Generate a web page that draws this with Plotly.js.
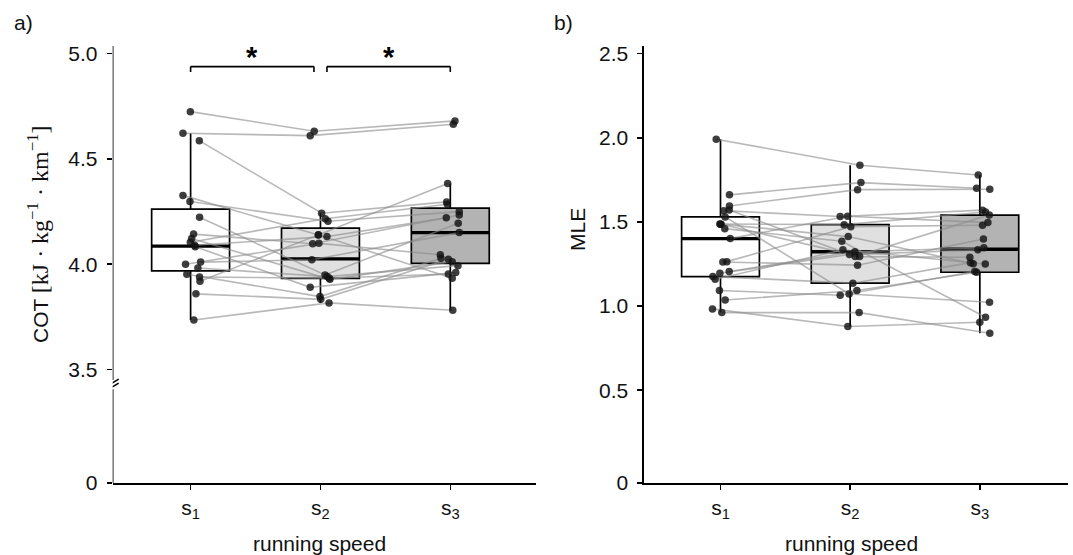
<!DOCTYPE html>
<html>
<head>
<meta charset="utf-8">
<script src="https://cdn.plot.ly/plotly-3.0.1.min.js"></script>
<style>html,body{margin:0;padding:0;background:#fff;}#chart{width:1073px;height:555px;}</style>
</head>
<body>
<div id="chart"></div>
<script>
// ---------- data ----------
const categories = ['s<sub>1</sub>', 's<sub>2</sub>', 's<sub>3</sub>'];
const catPos = [0, 1, 2];

// a) COT, one entry per participant (same order in each speed)
const cotS1 = [4.725, 4.622, 4.587, 4.327, 4.298, 4.223, 4.143, 4.122, 4.104, 4.083, 4.090, 4.010, 4.000, 3.982, 3.952, 3.939, 3.919, 3.859, 3.735];
const cotS2 = [4.632, 4.611, 4.242, 4.139, 4.204, 3.949, 4.097, 3.928, 4.216, 3.890, 4.131, 4.021, 4.099, 3.941, 3.846, 3.933, 4.140, 3.833, 3.816];
const cotS3 = [4.681, 4.665, 4.296, 4.383, 4.250, 4.194, 4.234, 4.012, 4.285, 3.960, 4.221, 4.150, 4.045, 3.993, 4.028, 3.953, 3.933, 4.023, 3.781];
// horizontal jitter (category units)
const cotJit1 = [-0.002, -0.059, 0.067, -0.059, -0.005, 0.069, 0.023, 0.008, -0.002, 0.036, 0.030, 0.077, -0.039, 0.056, -0.029, 0.069, 0.072, 0.041, 0.025];
const cotJit2 = [-0.048, -0.079, 0.009, -0.017, 0.058, 0.035, -0.060, 0.073, 0.037, -0.079, 0.050, -0.066, -0.012, 0.052, -0.004, 0.068, -0.015, 0.002, 0.066];
const cotJit3 = [0.036, 0.023, -0.028, -0.020, 0.069, 0.061, 0.069, 0.015, -0.023, 0.042, -0.031, 0.069, -0.077, 0.059, -0.072, -0.015, 0.015, -0.015, 0.019];
// box statistics (s1, s2, s3)
const cotQ1 = [3.968, 3.933, 4.004];
const cotMedian = [4.086, 4.025, 4.150];
const cotQ3 = [4.262, 4.171, 4.266];
const cotLower = [3.735, 3.816, 3.781];
const cotUpper = [4.622, 4.242, 4.383];
const cotTickVals = [2.96, 3.5, 4.0, 4.5, 5.0];
const cotTickText = ['0', '3.5', '4.0', '4.5', '5.0'];
const sigPairs = [[0, 1], [1, 2]];
const sigLabels = ['*', '*'];

// b) MLE
const mleS1 = [1.992, 1.661, 1.595, 1.571, 1.567, 1.530, 1.488, 1.486, 1.460, 1.401, 1.487, 1.264, 1.262, 1.205, 1.195, 1.175, 1.159, 1.092, 1.036, 0.983, 0.961];
const mleS2 = [1.837, 1.734, 1.692, 1.294, 1.532, 1.072, 1.484, 1.294, 1.385, 1.534, 1.413, 1.472, 1.243, 1.323, 1.306, 1.136, 1.334, 1.064, 1.092, 0.878, 0.961];
const mleS3 = [1.779, 1.700, 1.694, 1.542, 1.570, 1.023, 1.559, 1.290, 0.933, 1.496, 1.252, 1.480, 1.399, 1.347, 1.334, 1.258, 1.250, 1.205, 1.201, 0.904, 0.838];
const mleJit1 = [-0.033, 0.069, 0.069, 0.067, 0.025, 0.036, -0.005, 0.005, 0.033, 0.075, 0.000, 0.049, 0.018, 0.067, -0.005, -0.059, -0.041, -0.008, 0.036, -0.062, 0.010];
const mleJit2 = [0.075, 0.083, 0.057, 0.039, -0.077, -0.008, -0.046, 0.073, -0.064, -0.020, -0.015, 0.005, 0.057, 0.036, -0.005, 0.021, -0.056, -0.077, 0.052, -0.018, 0.069];
const mleJit3 = [-0.012, -0.025, 0.077, 0.073, 0.021, 0.075, 0.044, -0.077, 0.044, 0.062, -0.051, 0.021, 0.028, 0.031, -0.015, -0.072, 0.042, -0.039, -0.025, 0.000, 0.077];
const mleQ1 = [1.175, 1.136, 1.201];
const mleMedian = [1.401, 1.323, 1.338];
const mleQ3 = [1.530, 1.484, 1.540];
const mleLower = [0.961, 0.878, 0.838];
const mleUpper = [1.992, 1.837, 1.779];
const mleTickVals = [-0.052, 0.5, 1.0, 1.5, 2.0, 2.5];
const mleTickText = ['0', '0.5', '1.0', '1.5', '2.0', '2.5'];

// ---------- styling ----------
const boxFills = ['#ffffff', '#e0e0e0', '#b3b3b3'];
const BOX_W = 0.6;
const FONT = 'Liberation Sans, Arial, Helvetica, sans-serif';
const SERIF = "'Liberation Serif','DejaVu Serif',serif";
const INK = '#111111';
const FS = 21;

function panelTraces(series, jits, q1, med, q3, lo, hi, xa, ya) {
  const tr = [];
  for (let i = 0; i < 3; i++) {
    tr.push({
      type: 'box', x: [catPos[i]], q1: [q1[i]], median: [med[i]], q3: [q3[i]],
      lowerfence: [lo[i]], upperfence: [hi[i]], width: BOX_W, boxpoints: false,
      whiskerwidth: 0, fillcolor: boxFills[i], line: { color: '#000', width: 1.7 },
      xaxis: xa, yaxis: ya, hoverinfo: 'skip', showlegend: false
    });
  }
  const mx = [], my = [];
  for (let i = 0; i < 3; i++) {
    mx.push(catPos[i] - BOX_W / 2, catPos[i] + BOX_W / 2, null);
    my.push(med[i], med[i], null);
  }
  tr.push({ type: 'scatter', mode: 'lines', x: mx, y: my, line: { color: '#000', width: 3.4 },
            xaxis: xa, yaxis: ya, hoverinfo: 'skip', showlegend: false });
  const lx = [], ly = [];
  const n = series[0].length;
  for (let k = 0; k < n; k++) {
    for (let i = 0; i < 3; i++) {
      lx.push(catPos[i] + jits[i][k]);
      ly.push(series[i][k]);
    }
    lx.push(null); ly.push(null);
  }
  tr.push({ type: 'scatter', mode: 'lines', x: lx, y: ly,
            line: { color: 'rgba(140,140,140,0.62)', width: 1.6 },
            xaxis: xa, yaxis: ya, hoverinfo: 'skip', showlegend: false, connectgaps: false });
  const px = [], py = [];
  for (let i = 0; i < 3; i++) {
    for (let k = 0; k < n; k++) {
      px.push(catPos[i] + jits[i][k]);
      py.push(series[i][k]);
    }
  }
  tr.push({ type: 'scatter', mode: 'markers', x: px, y: py,
            marker: { color: 'rgba(20,20,20,0.82)', size: 7.5, line: { width: 0 } },
            xaxis: xa, yaxis: ya, hoverinfo: 'skip', showlegend: false });
  return tr;
}

const data = [].concat(
  panelTraces([cotS1, cotS2, cotS3], [cotJit1, cotJit2, cotJit3], cotQ1, cotMedian, cotQ3, cotLower, cotUpper, 'x', 'y'),
  panelTraces([mleS1, mleS2, mleS3], [mleJit1, mleJit2, mleJit3], mleQ1, mleMedian, mleQ3, mleLower, mleUpper, 'x2', 'y2')
);

const W = 1073, H = 555;
const yDom = [1 - 483 / H, 1 - 46 / H];
const cotRange = [2.96, 5.037];
const mleRange = [-0.052, 2.546];
const xRangeA = [-0.6, 2.66];
const xRangeB = [-0.59, 2.68];

function xAxis(dom, range, anchor) {
  return {
    domain: dom, range: range, anchor: anchor,
    tickmode: 'array', tickvals: catPos, ticktext: categories,
    ticks: 'outside', ticklen: 5, tickwidth: 1.4, tickcolor: '#000',
    showline: true, linecolor: '#000', linewidth: 1.6,
    showgrid: false, zeroline: false, fixedrange: true,
    tickfont: { family: FONT, size: FS, color: INK }
  };
}
function yAxis(range, vals, text, anchor, line) {
  return {
    domain: yDom, range: range, anchor: anchor,
    tickmode: 'array', tickvals: vals, ticktext: text,
    ticks: 'outside', ticklen: 5, tickwidth: 1.4, tickcolor: '#000', ticklabelstandoff: 5,
    showline: line, linecolor: '#000', linewidth: 1.6,
    showgrid: false, zeroline: false, fixedrange: true,
    tickfont: { family: FONT, size: FS, color: INK }
  };
}

// broken axis for panel a)
const breakVal = 3.425;
const shapes = [
  { type: 'line', xref: 'x', yref: 'y', x0: xRangeA[0], x1: xRangeA[0], y0: cotRange[1], y1: breakVal + 0.025, line: { color: '#000', width: 1.6 } },
  { type: 'line', xref: 'x', yref: 'y', x0: xRangeA[0], x1: xRangeA[0], y0: breakVal - 0.02, y1: cotRange[0], line: { color: '#000', width: 1.6 } },
  { type: 'line', xref: 'x', yref: 'y', xsizemode: 'pixel', ysizemode: 'pixel', xanchor: xRangeA[0], yanchor: breakVal,
    x0: -6, x1: 6, y0: -1, y1: 6, line: { color: '#000', width: 1.6 } },
  { type: 'line', xref: 'x', yref: 'y', xsizemode: 'pixel', ysizemode: 'pixel', xanchor: xRangeA[0], yanchor: breakVal,
    x0: -6, x1: 6, y0: -5, y1: 2, line: { color: '#000', width: 1.6 } }
];
const annotations = [];
sigPairs.forEach((p, i) => {
  const a = p[0] + (i > 0 ? 0.05 : 0), b = p[1] - (i === 0 ? 0.05 : 0);
  shapes.push({ type: 'line', xref: 'x', yref: 'y', x0: a, x1: b, y0: 4.939, y1: 4.939, line: { color: '#000', width: 1.6 } });
  shapes.push({ type: 'line', xref: 'x', yref: 'y', x0: a, x1: a, y0: 4.939, y1: 4.913, line: { color: '#000', width: 1.6 } });
  shapes.push({ type: 'line', xref: 'x', yref: 'y', x0: b, x1: b, y0: 4.939, y1: 4.913, line: { color: '#000', width: 1.6 } });
  annotations.push({ xref: 'x', yref: 'y', x: (a + b) / 2, y: 4.899, text: '<b>' + sigLabels[i] + '</b>', showarrow: false,
    xanchor: 'center', yanchor: 'bottom', font: { family: FONT, size: 29, color: '#000' } });
});

const px = v => v / W, py = v => 1 - v / H;
function note(x, y, text, extra) {
  return Object.assign({ xref: 'paper', yref: 'paper', x: px(x), y: py(y), text: text, showarrow: false,
    xanchor: 'center', yanchor: 'middle', font: { family: FONT, size: FS, color: INK } }, extra || {});
}
const dot = '&nbsp;·&nbsp;';
annotations.push(
  note(23, 22, 'a)'),
  note(563, 22, 'b)'),
  note(38, 234, "COT <span style=\"font-family:" + SERIF + ";font-size:24px\">[kJ" + dot + "kg<sup>−1</sup>" + dot + "km<sup>−1</sup>]</span>", { textangle: -90 }),
  note(577, 230, 'MLE', { textangle: -90 }),
  note(319, 543, 'running speed'),
  note(851, 543, 'running speed')
);

const layout = {
  width: W, height: H, margin: { l: 0, r: 0, t: 0, b: 0, pad: 0 },
  paper_bgcolor: '#fff', plot_bgcolor: '#fff', showlegend: false, boxmode: 'overlay',
  font: { family: FONT, size: FS, color: INK },
  xaxis: xAxis([112.7 / W, 536 / W], xRangeA, 'y'),
  yaxis: yAxis(cotRange, cotTickVals, cotTickText, 'x', false),
  xaxis2: xAxis([644 / W, 1068 / W], xRangeB, 'y2'),
  yaxis2: yAxis(mleRange, mleTickVals, mleTickText, 'x2', true),
  shapes: shapes, annotations: annotations
};

Plotly.newPlot('chart', data, layout, { staticPlot: true, displayModeBar: false });
</script>
</body>
</html>
